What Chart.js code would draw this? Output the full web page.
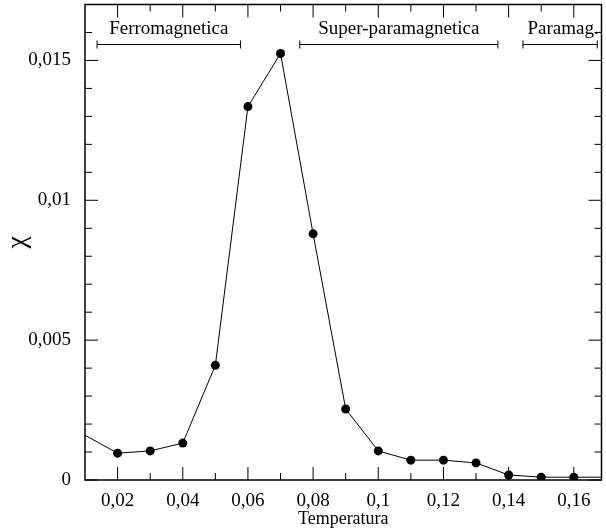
<!DOCTYPE html>
<html>
<head>
<meta charset="utf-8">
<script src="https://cdn.jsdelivr.net/npm/chart.js@4.4.1/dist/chart.umd.min.js"></script>
<style>
  html, body { margin: 0; padding: 0; background: #fff; }
  #wrap { width: 606px; height: 530px; }
</style>
</head>
<body>
<div id="wrap"><canvas id="myChart" width="606" height="530"></canvas></div>
<script>
// Dati
const temperatura = [0.01, 0.02, 0.03, 0.04, 0.05, 0.06, 0.07, 0.08, 0.09, 0.10, 0.11, 0.12, 0.13, 0.14, 0.15, 0.16, 0.17];
const chi = [0.0016, 0.00096, 0.00104, 0.00132, 0.0041, 0.01335, 0.01525, 0.0088, 0.00254, 0.00104, 0.00071, 0.00071, 0.00061, 0.00018, 0.0001, 0.0001, 0.0001];

// Tacche degli assi
const xTickMaggiori = [0.02, 0.04, 0.06, 0.08, 0.10, 0.12, 0.14, 0.16];
const xTickMinori = [0.01, 0.03, 0.05, 0.07, 0.09, 0.11, 0.13, 0.15, 0.17];
const yTickMaggiori = [0, 0.005, 0.01, 0.015];
const yTickMinori = [0.001, 0.002, 0.003, 0.004, 0.006, 0.007, 0.008, 0.009, 0.011, 0.012, 0.013, 0.014, 0.016];

// Fasi (intervalli in alto)
const fasi = ["Ferromagnetica", "Super-paramagnetica", "Paramag."];
const fasiInizio = [0.0137, 0.0759, 0.1444];
const fasiFine = [0.0577, 0.1367, 0.1672];
const fasiY = 0.01557;

const SERIF = "'Liberation Serif', 'DejaVu Serif', serif";

function virgola(v) {
    return Number(v.toFixed(4)).toString().replace(".", ",");
}

// Cornice, tacche interne e intervalli delle fasi
const cornice = {
    id: "cornice",
    afterDraw(chart) {
        const ctx = chart.ctx;
        const a = chart.chartArea;
        const xs = chart.scales.x;
        const ys = chart.scales.y;
        ctx.save();
        ctx.strokeStyle = "#000";
        ctx.lineWidth = 1;

        function tacca(x1, y1, x2, y2) {
            ctx.beginPath();
            ctx.moveTo(x1, y1);
            ctx.lineTo(x2, y2);
            ctx.stroke();
        }

        xTickMaggiori.forEach(v => {
            const px = xs.getPixelForValue(v);
            tacca(px, a.bottom, px, a.bottom - 13);
            tacca(px, a.top, px, a.top + 13);
        });
        xTickMinori.forEach(v => {
            const px = xs.getPixelForValue(v);
            if (px <= a.left + 1 || px >= a.right - 1) return;
            tacca(px, a.bottom, px, a.bottom - 7);
            tacca(px, a.top, px, a.top + 7);
        });
        yTickMaggiori.forEach(v => {
            const py = ys.getPixelForValue(v);
            tacca(a.left, py, a.left + 13, py);
            tacca(a.right, py, a.right - 13, py);
        });
        yTickMinori.forEach(v => {
            const py = ys.getPixelForValue(v);
            tacca(a.left, py, a.left + 7, py);
            tacca(a.right, py, a.right - 7, py);
        });

        ctx.lineWidth = 1.5;
        ctx.strokeRect(a.left, a.top, a.right - a.left, a.bottom - a.top);

        // Intervalli
        ctx.lineWidth = 1;
        ctx.fillStyle = "#000";
        ctx.font = "19px " + SERIF;
        ctx.textAlign = "center";
        ctx.textBaseline = "middle";
        const py = ys.getPixelForValue(fasiY);
        fasi.forEach((nome, i) => {
            const x1 = xs.getPixelForValue(fasiInizio[i]);
            const x2 = xs.getPixelForValue(fasiFine[i]);
            tacca(x1, py, x2, py);
            tacca(x1, py - 4, x1, py + 4);
            tacca(x2, py - 4, x2, py + 4);
            ctx.fillText(nome, (x1 + x2) / 2 + (i === 2 ? 3 : 0), py - 15);
        });
        ctx.restore();
    }
};

const ctx = document.querySelector("#myChart").getContext("2d");
new Chart(ctx, {
    type: "line",
    data: {
        labels: temperatura,
        datasets: [{
            label: "chi",
            data: temperatura.map((t, i) => ({ x: t, y: chi[i] })),
            borderColor: "#000",
            borderWidth: 1,
            backgroundColor: "#000",
            pointBackgroundColor: "#000",
            pointBorderColor: "#000",
            pointRadius: temperatura.map((t, i) => i === 0 ? 0 : 4.5),
            pointBorderWidth: 0,
            tension: 0,
            clip: 0
        }]
    },
    options: {
        responsive: false,
        animation: false,
        layout: { padding: { top: 3, right: 1, left: 0, bottom: 0 } },
        plugins: {
            legend: { display: false },
            tooltip: { enabled: false }
        },
        scales: {
            x: {
                type: "linear",
                min: 0.01,
                max: 0.1685,
                grid: { display: false },
                border: { display: false },
                afterBuildTicks: s => { s.ticks = xTickMaggiori.map(v => ({ value: v })); },
                afterFit: s => { s.height = 50; s.paddingLeft = 0; s.paddingRight = 0; },
                ticks: {
                    color: "#000",
                    padding: 2,
                    maxRotation: 0,
                    autoSkip: false,
                    font: { family: SERIF, size: 19 },
                    callback: v => virgola(v)
                },
                title: {
                    display: true,
                    text: "Temperatura",
                    color: "#000",
                    font: { family: SERIF, size: 18 },
                    padding: { top: 0, bottom: 0 }
                }
            },
            y: {
                type: "linear",
                min: 0,
                max: 0.017,
                grid: { display: false },
                border: { display: false },
                afterBuildTicks: s => { s.ticks = yTickMaggiori.map(v => ({ value: v })); },
                afterFit: s => { s.width = 85; s.paddingTop = 0; s.paddingBottom = 0; },
                ticks: {
                    color: "#000",
                    padding: 6,
                    font: { family: SERIF, size: 19 },
                    callback: v => virgola(v)
                },
                title: {
                    display: true,
                    text: "χ",
                    color: "#000",
                    font: { family: SERIF, size: 28 },
                    padding: { top: 1, bottom: 0 }
                }
            }
        }
    },
    plugins: [cornice]
});
</script>
</body>
</html>
